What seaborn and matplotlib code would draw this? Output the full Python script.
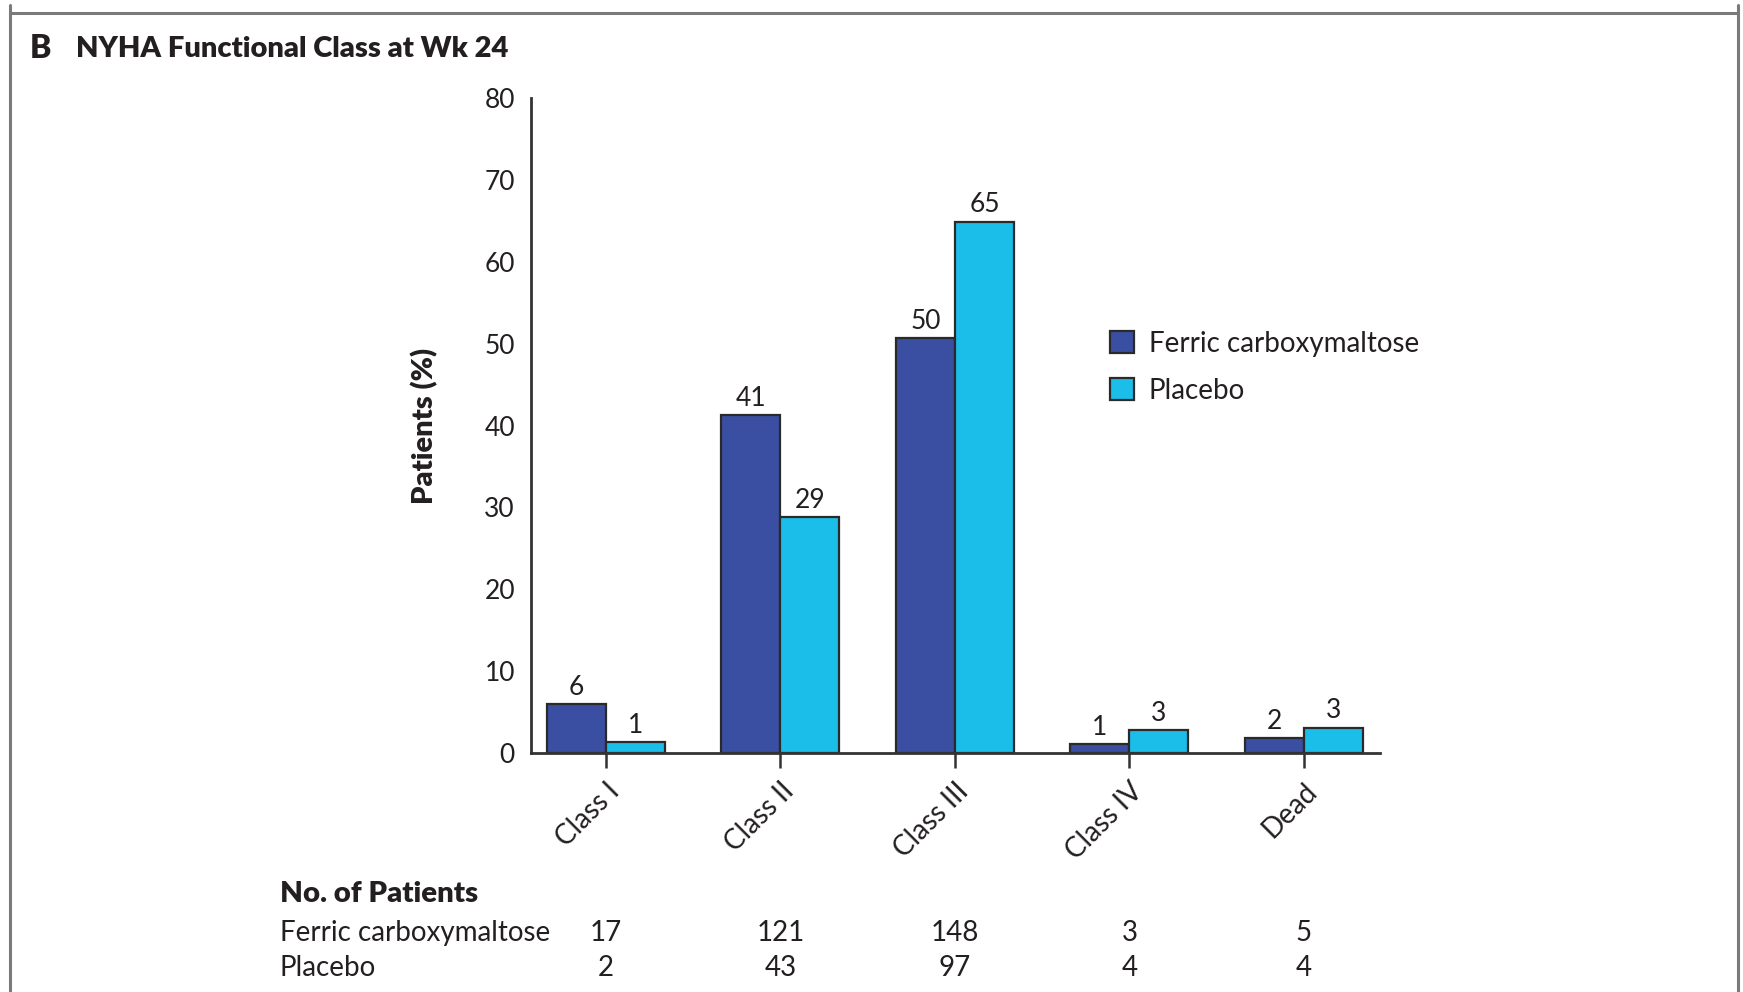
import pandas as pd
import matplotlib.pyplot as plt
import matplotlib.transforms as mtransforms
from matplotlib.lines import Line2D
import seaborn as sns

# values
classes = ['Class I', 'Class II', 'Class III', 'Class IV', 'Dead']
groups = ['Ferric carboxymaltose', 'Placebo']
fcm_pct = [6.0, 41.3, 50.7, 1.1, 1.8]
placebo_pct = [1.3, 28.8, 64.9, 2.8, 3.1]
fcm_labels = ['6', '41', '50', '1', '2']
placebo_labels = ['1', '29', '65', '3', '3']
fcm_n = [17, 121, 148, 3, 5]
placebo_n = [2, 43, 97, 4, 4]

colors = ['#3a4fa1', '#1bbde9']
ink = '#231f20'

df = pd.DataFrame({
    'cls': classes * 2,
    'group': [groups[0]] * len(classes) + [groups[1]] * len(classes),
    'pct': fcm_pct + placebo_pct,
})

sns.set_style('white')
plt.rcParams['font.family'] = ['Lato', 'DejaVu Sans']
plt.rcParams['text.color'] = ink

fig = plt.figure(figsize=(17.43, 9.92), dpi=100)
ax = fig.add_axes([0.3046, 0.2409, 0.4871, 0.6603])

sns.barplot(data=df, x='cls', y='pct', hue='group', hue_order=groups,
            palette=colors, width=0.676, gap=0, edgecolor='#2a2a2a',
            linewidth=1.6, saturation=1, ax=ax, legend=True)

for cont, labs in zip(ax.containers, [fcm_labels, placebo_labels]):
    ax.bar_label(cont, labels=labs, padding=3, fontsize=19, color=ink)

ax.set_ylim(0, 80)
ax.set_xlim(-0.43, 4.436)
ax.set_yticks(range(0, 81, 10))
ax.set_xlabel('')
ax.set_ylabel('Patients (%)', fontsize=21, fontweight='heavy', color=ink)
ax.yaxis.set_label_coords(-0.109, 0.5)

sns.despine(ax=ax)
for s in ['left', 'bottom']:
    ax.spines[s].set_color('#333333')
    ax.spines[s].set_linewidth(2.0)
ax.tick_params(axis='both', direction='out', length=11, width=1.8,
               color='#333333', labelsize=19, labelcolor=ink, pad=0.5)
ax.tick_params(axis='x', bottom=True, labelsize=20, pad=7)
plt.setp(ax.get_xticklabels(), rotation=45, ha='right', va='top',
         rotation_mode='anchor')

leg = ax.legend(loc='upper left', bbox_to_anchor=(1110 / 1743, 1 - 331 / 992),
                bbox_transform=fig.transFigure, frameon=False, fontsize=20,
                handlelength=0.85, handleheight=0.85, handletextpad=0.55,
                labelspacing=0.75, borderpad=0, borderaxespad=0)

# title
fig.text(30 / 1743, 1 - 48 / 992, 'B', fontsize=23, fontweight='heavy', va='center')
fig.text(76 / 1743, 1 - 49 / 992, 'NYHA Functional Class at Wk 24', fontsize=21,
         fontweight='heavy', va='center')

# patient numbers table
trans = mtransforms.blended_transform_factory(ax.transData, fig.transFigure)
fig.text(280 / 1743, 1 - 894 / 992, 'No. of Patients', fontsize=21.2,
         fontweight='heavy', va='center')
for lab, nums, yy in [(groups[0], fcm_n, 933), (groups[1], placebo_n, 968)]:
    fig.text(280 / 1743, 1 - yy / 992, lab, fontsize=20, va='center')
    for i, n in enumerate(nums):
        ax.text(i, 1 - yy / 992, str(n), transform=trans, fontsize=20,
                ha='center', va='center')

# panel frame
fc = '#7a7a7a'
fig.add_artist(Line2D([10 / 1743, 1738 / 1743], [1 - 13 / 992] * 2,
                      transform=fig.transFigure, color=fc, lw=2.2))
fig.add_artist(Line2D([10 / 1743] * 2, [1 - 5 / 992, 0],
                      transform=fig.transFigure, color=fc, lw=2.2))
fig.add_artist(Line2D([1738 / 1743] * 2, [1 - 5 / 992, 0],
                      transform=fig.transFigure, color=fc, lw=2.2))

fig.savefig('out.png', dpi=100)
